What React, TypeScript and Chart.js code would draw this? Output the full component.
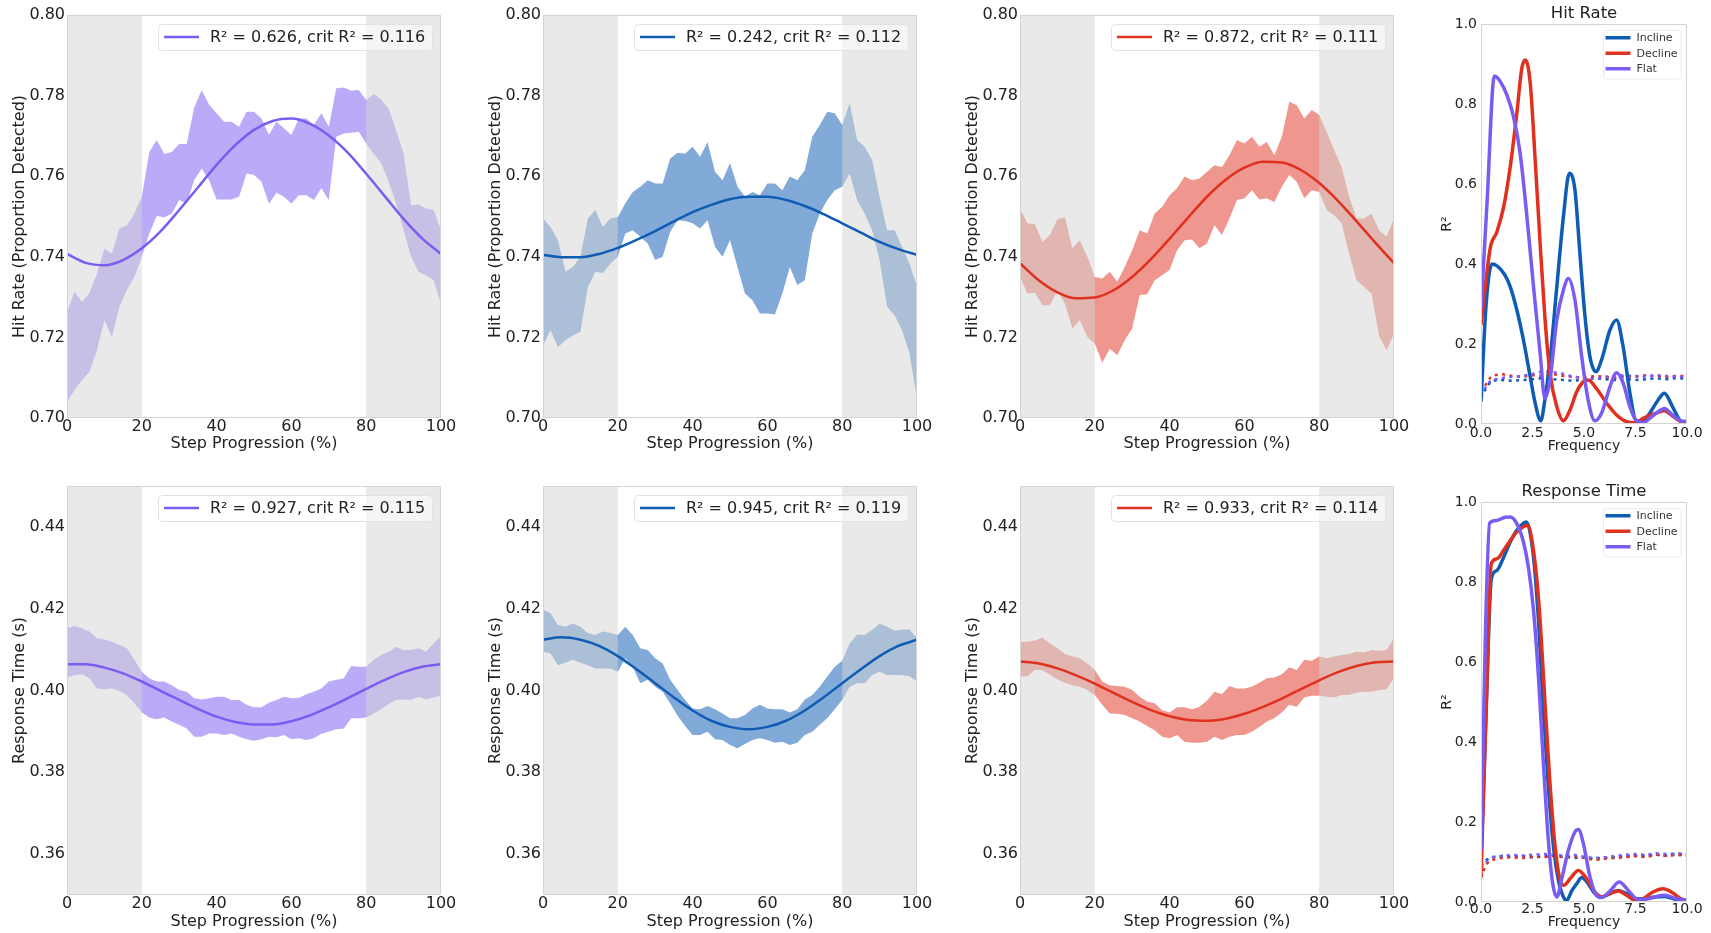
import React, { useEffect, useRef } from "react";
import { Chart, registerables } from "chart.js";

Chart.register(...registerables);

// ---------- styling ----------
const FONT_FAMILY = "'DejaVu Sans', 'Liberation Sans', sans-serif";
const INK = "#222222";
const SPINE = "#d4d4d4";
const ZONE_FILL = "rgba(211, 211, 211, 0.5)";

const FLAT_COLOR = "#7b5cf2";
const INCLINE_COLOR = "#0f5cb4";
const DECLINE_COLOR = "#e0301e";
const FLAT_BAND = "rgba(123, 92, 242, 0.52)";
const INCLINE_BAND = "rgba(15, 92, 180, 0.52)";
const DECLINE_BAND = "rgba(224, 48, 30, 0.5)";

// ---------- axes ----------
const STEP_PCT = [0, 2, 4, 6, 8, 10, 12, 14, 16, 18, 20, 22, 24, 26, 28, 30, 32, 34, 36, 38, 40, 42, 44, 46, 48, 50, 52, 54, 56, 58, 60, 62, 64, 66, 68, 70, 72, 74, 76, 78, 80, 82, 84, 86, 88, 90, 92, 94, 96, 98, 100];
const FIT_PCT = [0, 5, 10, 15, 20, 25, 30, 35, 40, 45, 50, 55, 60, 65, 70, 75, 80, 85, 90, 95, 100];
const PCT_TICKS = [0, 20, 40, 60, 80, 100];
const HIT_TICKS = [0.7, 0.72, 0.74, 0.76, 0.78, 0.8];
const RT_TICKS = [0.36, 0.38, 0.4, 0.42, 0.44];
const FREQ_TICKS = [0, 2.5, 5, 7.5, 10];
const R2_TICKS = [0, 0.2, 0.4, 0.6, 0.8, 1.0];
const SHADED_ZONES = [[0, 20], [80, 100]];

// ---------- hit rate bands and fits ----------
const HIT_FLAT_UPPER = [0.7263, 0.7313, 0.7288, 0.7310, 0.7358, 0.7420, 0.7408, 0.7470, 0.7478, 0.7507, 0.7549, 0.7660, 0.7690, 0.7655, 0.7660, 0.7680, 0.7680, 0.7770, 0.7814, 0.7777, 0.7756, 0.7735, 0.7735, 0.7723, 0.7760, 0.7760, 0.7743, 0.7702, 0.7735, 0.7719, 0.7702, 0.7743, 0.7743, 0.7727, 0.7756, 0.7723, 0.7818, 0.7820, 0.7812, 0.7814, 0.7789, 0.7804, 0.7790, 0.7768, 0.7714, 0.7656, 0.7528, 0.7530, 0.7520, 0.7516, 0.7466];
const HIT_FLAT_LOWER = [0.7040, 0.7069, 0.7094, 0.7114, 0.7168, 0.7243, 0.7201, 0.7276, 0.7317, 0.7350, 0.7400, 0.7458, 0.7501, 0.7498, 0.7507, 0.7541, 0.7532, 0.7590, 0.7619, 0.7590, 0.7542, 0.7542, 0.7542, 0.7549, 0.7607, 0.7603, 0.7586, 0.7531, 0.7559, 0.7549, 0.7532, 0.7553, 0.7553, 0.7541, 0.7570, 0.7541, 0.7698, 0.7706, 0.7708, 0.7710, 0.7681, 0.7656, 0.7632, 0.7586, 0.7532, 0.7466, 0.7400, 0.7363, 0.7354, 0.7342, 0.7284];
const HIT_FLAT_FIT = [0.7407, 0.7385, 0.7379, 0.7392, 0.7421, 0.7463, 0.7516, 0.7572, 0.7628, 0.7677, 0.7715, 0.7737, 0.7743, 0.7730, 0.7701, 0.7659, 0.7606, 0.7550, 0.7494, 0.7445, 0.7407];

const HIT_INCLINE_UPPER = [0.7495, 0.7474, 0.7441, 0.7363, 0.7375, 0.7400, 0.7495, 0.7516, 0.7474, 0.7495, 0.7499, 0.7532, 0.7561, 0.7574, 0.7590, 0.7582, 0.7582, 0.7644, 0.7658, 0.7656, 0.7673, 0.7648, 0.7685, 0.7611, 0.7590, 0.7633, 0.7574, 0.7549, 0.7561, 0.7553, 0.7582, 0.7582, 0.7565, 0.7599, 0.7590, 0.7615, 0.7698, 0.7727, 0.7760, 0.7756, 0.7727, 0.7781, 0.7690, 0.7673, 0.7640, 0.7549, 0.7466, 0.7466, 0.7425, 0.7383, 0.7325];
const HIT_INCLINE_LOWER = [0.7180, 0.7218, 0.7176, 0.7193, 0.7205, 0.7214, 0.7325, 0.7363, 0.7360, 0.7383, 0.7400, 0.7458, 0.7466, 0.7450, 0.7433, 0.7392, 0.7400, 0.7462, 0.7491, 0.7489, 0.7483, 0.7470, 0.7491, 0.7425, 0.7400, 0.7441, 0.7375, 0.7309, 0.7292, 0.7259, 0.7259, 0.7257, 0.7309, 0.7375, 0.7330, 0.7342, 0.7458, 0.7507, 0.7541, 0.7565, 0.7574, 0.7607, 0.7541, 0.7507, 0.7466, 0.7392, 0.7276, 0.7255, 0.7218, 0.7160, 0.7048];
const HIT_INCLINE_FIT = [0.7405, 0.7399, 0.7399, 0.7407, 0.7422, 0.7442, 0.7464, 0.7488, 0.7511, 0.7529, 0.7543, 0.7549, 0.7549, 0.7541, 0.7526, 0.7506, 0.7483, 0.7460, 0.7437, 0.7419, 0.7405];

const HIT_DECLINE_UPPER = [0.7520, 0.7483, 0.7481, 0.7437, 0.7454, 0.7493, 0.7498, 0.7421, 0.7441, 0.7400, 0.7350, 0.7346, 0.7363, 0.7338, 0.7375, 0.7416, 0.7466, 0.7458, 0.7507, 0.7524, 0.7553, 0.7570, 0.7599, 0.7590, 0.7594, 0.7611, 0.7627, 0.7623, 0.7652, 0.7690, 0.7681, 0.7698, 0.7673, 0.7685, 0.7652, 0.7698, 0.7785, 0.7776, 0.7743, 0.7764, 0.7752, 0.7710, 0.7665, 0.7623, 0.7549, 0.7495, 0.7495, 0.7507, 0.7466, 0.7450, 0.7495];
const HIT_DECLINE_LOWER = [0.7350, 0.7309, 0.7311, 0.7280, 0.7280, 0.7317, 0.7284, 0.7222, 0.7243, 0.7201, 0.7185, 0.7137, 0.7172, 0.7156, 0.7193, 0.7222, 0.7305, 0.7307, 0.7342, 0.7354, 0.7367, 0.7416, 0.7441, 0.7443, 0.7421, 0.7433, 0.7478, 0.7454, 0.7495, 0.7541, 0.7545, 0.7565, 0.7542, 0.7545, 0.7536, 0.7574, 0.7603, 0.7586, 0.7545, 0.7565, 0.7561, 0.7516, 0.7503, 0.7483, 0.7408, 0.7342, 0.7325, 0.7309, 0.7205, 0.7168, 0.7209];
const HIT_DECLINE_FIT = [0.7384, 0.7342, 0.7312, 0.7297, 0.7299, 0.7317, 0.7350, 0.7394, 0.7445, 0.7498, 0.7549, 0.7591, 0.7621, 0.7636, 0.7634, 0.7616, 0.7583, 0.7539, 0.7488, 0.7435, 0.7384];

// ---------- response time bands and fits ----------
const RT_FLAT_UPPER = [0.4152, 0.4158, 0.4152, 0.4144, 0.4128, 0.4125, 0.4119, 0.4111, 0.4103, 0.4075, 0.4046, 0.4030, 0.4022, 0.4022, 0.4013, 0.4001, 0.3997, 0.3981, 0.3978, 0.3981, 0.3985, 0.3985, 0.3977, 0.3977, 0.3965, 0.3959, 0.3959, 0.3970, 0.3977, 0.3985, 0.3981, 0.3982, 0.3991, 0.3997, 0.4005, 0.4022, 0.4026, 0.4030, 0.4060, 0.4058, 0.4058, 0.4075, 0.4087, 0.4095, 0.4107, 0.4099, 0.4099, 0.4103, 0.4095, 0.4115, 0.4133];
const RT_FLAT_LOWER = [0.4032, 0.4038, 0.4040, 0.4030, 0.4005, 0.4003, 0.4005, 0.3999, 0.3989, 0.3969, 0.3946, 0.3934, 0.3930, 0.3934, 0.3924, 0.3916, 0.3907, 0.3887, 0.3887, 0.3895, 0.3895, 0.3891, 0.3895, 0.3887, 0.3881, 0.3877, 0.3881, 0.3887, 0.3886, 0.3891, 0.3881, 0.3883, 0.3879, 0.3883, 0.3894, 0.3899, 0.3905, 0.3907, 0.3932, 0.3932, 0.3934, 0.3944, 0.3954, 0.3967, 0.3977, 0.3978, 0.3977, 0.3985, 0.3978, 0.3983, 0.3987];
const RT_FLAT_FIT = [0.4064, 0.4064, 0.4056, 0.4042, 0.4022, 0.3999, 0.3977, 0.3955, 0.3936, 0.3923, 0.3917, 0.3917, 0.3925, 0.3939, 0.3959, 0.3981, 0.4004, 0.4026, 0.4045, 0.4058, 0.4064];

const RT_INCLINE_UPPER = [0.4198, 0.4189, 0.4160, 0.4156, 0.4164, 0.4156, 0.4140, 0.4136, 0.4144, 0.4141, 0.4136, 0.4156, 0.4136, 0.4103, 0.4099, 0.4079, 0.4066, 0.4026, 0.4001, 0.3977, 0.3956, 0.3954, 0.3962, 0.3954, 0.3944, 0.3932, 0.3932, 0.3940, 0.3956, 0.3965, 0.3956, 0.3954, 0.3954, 0.3946, 0.3954, 0.3978, 0.3989, 0.4009, 0.4034, 0.4058, 0.4073, 0.4115, 0.4137, 0.4136, 0.4148, 0.4163, 0.4156, 0.4146, 0.4149, 0.4149, 0.4128];
const RT_INCLINE_LOWER = [0.4095, 0.4091, 0.4062, 0.4068, 0.4076, 0.4068, 0.4062, 0.4054, 0.4054, 0.4054, 0.4046, 0.4079, 0.4058, 0.4018, 0.4026, 0.4009, 0.3997, 0.3969, 0.3938, 0.3913, 0.3891, 0.3891, 0.3899, 0.3881, 0.3879, 0.3867, 0.3859, 0.3869, 0.3879, 0.3883, 0.3879, 0.3872, 0.3875, 0.3867, 0.3872, 0.3891, 0.3899, 0.3916, 0.3932, 0.3954, 0.3977, 0.4009, 0.4018, 0.4018, 0.4038, 0.4046, 0.4038, 0.4038, 0.4038, 0.4035, 0.4022];
const RT_INCLINE_FIT = [0.4124, 0.4130, 0.4124, 0.4109, 0.4084, 0.4052, 0.4018, 0.3983, 0.3951, 0.3926, 0.3911, 0.3905, 0.3911, 0.3926, 0.3951, 0.3983, 0.4018, 0.4052, 0.4084, 0.4109, 0.4124];

const RT_DECLINE_UPPER = [0.4119, 0.4119, 0.4122, 0.4129, 0.4115, 0.4103, 0.4089, 0.4084, 0.4079, 0.4066, 0.4050, 0.4022, 0.4013, 0.4011, 0.4009, 0.4001, 0.3985, 0.3973, 0.3969, 0.3952, 0.3946, 0.3959, 0.3959, 0.3954, 0.3960, 0.3975, 0.3997, 0.3991, 0.4011, 0.4005, 0.4005, 0.4009, 0.4019, 0.4030, 0.4032, 0.4040, 0.4057, 0.4050, 0.4075, 0.4073, 0.4083, 0.4079, 0.4083, 0.4087, 0.4089, 0.4095, 0.4093, 0.4099, 0.4097, 0.4099, 0.4128];
const RT_DECLINE_LOWER = [0.4034, 0.4035, 0.4050, 0.4050, 0.4038, 0.4027, 0.4019, 0.4013, 0.4009, 0.4001, 0.3989, 0.3965, 0.3944, 0.3943, 0.3940, 0.3932, 0.3924, 0.3913, 0.3903, 0.3887, 0.3883, 0.3891, 0.3875, 0.3872, 0.3872, 0.3875, 0.3887, 0.3879, 0.3887, 0.3891, 0.3891, 0.3899, 0.3911, 0.3924, 0.3932, 0.3946, 0.3965, 0.3960, 0.3983, 0.3987, 0.3987, 0.3985, 0.3983, 0.3989, 0.3989, 0.3995, 0.3997, 0.3997, 0.4001, 0.4003, 0.4030];
const RT_DECLINE_FIT = [0.4071, 0.4066, 0.4054, 0.4037, 0.4017, 0.3994, 0.3972, 0.3952, 0.3937, 0.3928, 0.3926, 0.3931, 0.3943, 0.3960, 0.3980, 0.4003, 0.4025, 0.4045, 0.4060, 0.4069, 0.4071];

// ---------- fit statistics [R², critical R²] ----------
const HIT_FLAT_STATS = [0.626, 0.116];
const HIT_INCLINE_STATS = [0.242, 0.112];
const HIT_DECLINE_STATS = [0.872, 0.111];
const RT_FLAT_STATS = [0.927, 0.115];
const RT_INCLINE_STATS = [0.945, 0.119];
const RT_DECLINE_STATS = [0.933, 0.114];

// ---------- R² by frequency: hit rate ----------
const HR_INCLINE_F = [0, 0.25, 0.53, 1.1, 1.42, 1.74, 2.06, 2.39, 2.63, 2.9, 3.1, 3.35, 3.68, 4.0, 4.29, 4.56, 4.8, 5.05, 5.29, 5.58, 5.85, 6.26, 6.58, 6.9, 7.23, 7.55, 7.87, 8.19, 8.6, 8.9, 9.3, 9.7, 10];
const HR_INCLINE_R2 = [0.056, 0.30, 0.40, 0.377, 0.343, 0.285, 0.21, 0.118, 0.052, 0.008, 0.06, 0.16, 0.343, 0.518, 0.627, 0.585, 0.427, 0.268, 0.168, 0.131, 0.16, 0.235, 0.26, 0.193, 0.077, 0.008, 0.008, 0.027, 0.06, 0.077, 0.043, 0.008, 0.006];
const HR_DECLINE_F = [0, 0.45, 0.77, 1.1, 1.42, 1.74, 1.98, 2.15, 2.39, 2.63, 2.87, 3.1, 3.35, 3.68, 4.0, 4.32, 4.65, 4.97, 5.2, 5.6, 6.1, 6.58, 7.06, 7.55, 7.87, 8.5, 8.9, 9.3, 9.7, 10];
const HR_DECLINE_R2 = [0.2475, 0.44, 0.48, 0.543, 0.643, 0.777, 0.889, 0.91, 0.852, 0.66, 0.452, 0.268, 0.127, 0.043, 0.008, 0.035, 0.081, 0.106, 0.11, 0.089, 0.052, 0.0225, 0.006, 0.003, 0.014, 0.027, 0.033, 0.02, 0.006, 0.003];
const HR_FLAT_F = [0, 0.29, 0.65, 0.94, 1.26, 1.58, 1.9, 2.23, 2.55, 2.87, 3.1, 3.35, 3.68, 4.0, 4.24, 4.56, 4.89, 5.2, 5.53, 5.85, 6.26, 6.58, 6.9, 7.23, 7.55, 7.87, 8.19, 8.6, 8.9, 9.3, 9.7, 10];
const HR_FLAT_R2 = [0.289, 0.55, 0.87, 0.856, 0.822, 0.768, 0.677, 0.518, 0.343, 0.177, 0.064, 0.11, 0.26, 0.335, 0.364, 0.31, 0.168, 0.06, 0.008, 0.027, 0.093, 0.128, 0.102, 0.043, 0.008, 0.003, 0.014, 0.031, 0.039, 0.0225, 0.008, 0.003];

// ---------- R² by frequency: response time ----------
const RT_INCLINE_F = [0, 0.26, 0.5, 0.77, 1.1, 1.42, 1.74, 2.2, 2.55, 2.79, 3.03, 3.27, 3.52, 3.76, 4.0, 4.16, 4.4, 4.65, 4.89, 5.2, 5.53, 5.85, 6.26, 6.66, 7.06, 7.47, 7.87, 8.44, 8.9, 9.5, 10];
const RT_INCLINE_R2 = [0.096, 0.496, 0.808, 0.829, 0.862, 0.9, 0.929, 0.95, 0.862, 0.704, 0.479, 0.2875, 0.1375, 0.054, 0.0125, 0.004, 0.0275, 0.046, 0.061, 0.046, 0.021, 0.0125, 0.021, 0.029, 0.021, 0.008, 0.008, 0.0125, 0.014, 0.006, 0.004];
const RT_DECLINE_F = [0, 0.26, 0.5, 0.77, 1.1, 1.42, 1.74, 2.25, 2.63, 2.87, 3.1, 3.35, 3.6, 3.84, 4.03, 4.32, 4.73, 5.13, 5.53, 5.85, 6.26, 6.66, 7.06, 7.55, 7.87, 8.35, 8.84, 9.32, 9.7, 10];
const RT_DECLINE_R2 = [0.0625, 0.496, 0.846, 0.858, 0.879, 0.904, 0.925, 0.942, 0.846, 0.704, 0.504, 0.296, 0.1375, 0.054, 0.042, 0.058, 0.079, 0.058, 0.025, 0.0125, 0.021, 0.0275, 0.017, 0.0025, 0.008, 0.025, 0.033, 0.0225, 0.008, 0.004];
const RT_FLAT_F = [0, 0.21, 0.42, 0.77, 1.18, 1.42, 1.74, 2.06, 2.3, 2.55, 2.79, 3.03, 3.27, 3.48, 3.68, 3.92, 4.24, 4.56, 4.73, 4.97, 5.29, 5.6, 5.85, 6.26, 6.71, 7.15, 7.55, 7.87, 8.44, 8.9, 9.5, 10];
const RT_FLAT_R2 = [0.129, 0.6625, 0.9475, 0.954, 0.962, 0.9625, 0.946, 0.9, 0.8375, 0.729, 0.5625, 0.346, 0.154, 0.046, 0.0125, 0.058, 0.129, 0.175, 0.181, 0.146, 0.0625, 0.017, 0.011, 0.0275, 0.05, 0.029, 0.008, 0.006, 0.0125, 0.017, 0.008, 0.004];

// ---------- critical R² (permutation threshold) ----------
const CRIT_F = [0, 0.25, 0.5, 1, 1.5, 2, 2.5, 3, 3.5, 4, 4.5, 5, 5.5, 6, 6.5, 7, 7.5, 8, 8.5, 9, 9.5, 10];
const HR_CRIT_INCLINE = [0.065, 0.09, 0.108, 0.11, 0.108, 0.11, 0.112, 0.115, 0.112, 0.11, 0.108, 0.112, 0.115, 0.112, 0.11, 0.113, 0.11, 0.112, 0.114, 0.112, 0.115, 0.113];
const HR_CRIT_DECLINE = [0.08, 0.1, 0.12, 0.125, 0.12, 0.118, 0.122, 0.12, 0.125, 0.12, 0.118, 0.115, 0.12, 0.118, 0.115, 0.12, 0.118, 0.122, 0.12, 0.118, 0.12, 0.12];
const HR_CRIT_FLAT = [0.07, 0.095, 0.11, 0.115, 0.118, 0.12, 0.125, 0.132, 0.13, 0.125, 0.118, 0.115, 0.112, 0.118, 0.12, 0.122, 0.12, 0.118, 0.122, 0.12, 0.118, 0.118];
const RT_CRIT_INCLINE = [0.09, 0.105, 0.112, 0.115, 0.113, 0.115, 0.112, 0.114, 0.116, 0.113, 0.11, 0.112, 0.108, 0.11, 0.112, 0.114, 0.116, 0.115, 0.118, 0.116, 0.12, 0.118];
const RT_CRIT_DECLINE = [0.06, 0.095, 0.105, 0.11, 0.112, 0.11, 0.113, 0.112, 0.115, 0.112, 0.115, 0.11, 0.105, 0.108, 0.11, 0.112, 0.115, 0.112, 0.118, 0.115, 0.118, 0.116];
const RT_CRIT_FLAT = [0.085, 0.1, 0.11, 0.115, 0.118, 0.116, 0.118, 0.12, 0.118, 0.116, 0.118, 0.113, 0.11, 0.112, 0.115, 0.118, 0.12, 0.118, 0.122, 0.12, 0.122, 0.12];

// ---------- helpers ----------
const toPoints = (xs: number[], ys: number[]) => xs.map((x, i) => ({ x, y: ys[i] }));
const font = (size: number, weight = "normal") => ({ family: FONT_FAMILY, size, weight });
const fixedTicks = (values: number[]) => (scale: any) => {
  scale.ticks = values.map((v) => ({ value: v }));
};
const statLabel = (s: number[]) => `R\u00b2 = ${s[0].toFixed(3)}, crit R\u00b2 = ${s[1].toFixed(3)}`;

// grey shading over the first and last 20 % of the step, laid over the band but under the fit
const zonePlugin = {
  id: "stepZones",
  afterDatasetDraw(chart: any, args: any) {
    if (args.index !== 1) return;
    const { ctx, chartArea, scales } = chart;
    ctx.save();
    ctx.fillStyle = ZONE_FILL;
    for (const [a, b] of SHADED_ZONES) {
      const x0 = scales.x.getPixelForValue(a);
      const x1 = scales.x.getPixelForValue(b);
      ctx.fillRect(x0, chartArea.top, x1 - x0, chartArea.bottom - chartArea.top);
    }
    ctx.restore();
  },
};

// thin light frame around the plotting area
const framePlugin = {
  id: "plotFrame",
  afterDraw(chart: any) {
    const { ctx, chartArea } = chart;
    ctx.save();
    ctx.strokeStyle = SPINE;
    ctx.lineWidth = 1;
    ctx.strokeRect(
      Math.round(chartArea.left) + 0.5,
      Math.round(chartArea.top) + 0.5,
      Math.round(chartArea.right - chartArea.left) - 1,
      Math.round(chartArea.bottom - chartArea.top) - 1
    );
    ctx.restore();
  },
};

// legend drawn inside the top-right corner of the plotting area
function insetLegend(items: { label: string; color: string }[], o: any) {
  return {
    id: "insetLegend",
    afterDraw(chart: any) {
      const { ctx, chartArea } = chart;
      ctx.save();
      ctx.font = `${o.fontSize}px ${FONT_FAMILY}`;
      const textW = Math.max(...items.map((it) => ctx.measureText(it.label).width));
      const w = o.padL + o.lineLen + o.gap + textW + o.padR;
      const h = o.padT + o.rowH * items.length + o.padB;
      const x = Math.round(chartArea.right - o.right - w);
      const y = Math.round(chartArea.top + o.top);
      ctx.beginPath();
      ctx.roundRect(x + 0.5, y + 0.5, w, h, o.radius);
      ctx.fillStyle = o.bg;
      ctx.fill();
      ctx.strokeStyle = o.edge;
      ctx.lineWidth = 1;
      ctx.stroke();
      items.forEach((it, i) => {
        const cy = y + o.padT + o.rowH * (i + 0.5);
        ctx.beginPath();
        ctx.moveTo(x + o.padL, cy);
        ctx.lineTo(x + o.padL + o.lineLen, cy);
        ctx.strokeStyle = it.color;
        ctx.lineWidth = o.lineWidth;
        ctx.lineCap = "butt";
        ctx.stroke();
        ctx.fillStyle = o.textColor;
        ctx.textBaseline = "middle";
        ctx.textAlign = "left";
        ctx.fillText(it.label, x + o.padL + o.lineLen + o.gap, cy + 0.5);
      });
      ctx.restore();
    },
  };
}

// ---------- band panel (mean band + sinusoid fit) ----------
type BandSpec = {
  upper: number[];
  lower: number[];
  fit: number[];
  color: string;
  band: string;
  stats: number[];
  yMin: number;
  yMax: number;
  yTicks: number[];
  yTitle: string;
  padTop: number;
  xAxisH: number;
  xTickPad: number;
};

function bandConfig(s: BandSpec): any {
  return {
    type: "line",
    data: {
      datasets: [
        {
          data: toPoints(FIT_PCT, s.fit),
          borderColor: s.color,
          borderWidth: 2.5,
          pointRadius: 0,
          fill: false,
          cubicInterpolationMode: "monotone",
        },
        {
          data: toPoints(STEP_PCT, s.upper),
          borderColor: "rgba(0,0,0,0)",
          borderWidth: 0,
          pointRadius: 0,
          tension: 0,
          fill: "+1",
          backgroundColor: s.band,
        },
        {
          data: toPoints(STEP_PCT, s.lower),
          borderColor: "rgba(0,0,0,0)",
          borderWidth: 0,
          pointRadius: 0,
          tension: 0,
          fill: false,
        },
      ],
    },
    options: {
      responsive: false,
      animation: false,
      events: [],
      layout: { padding: { left: 0, top: s.padTop, right: 19, bottom: 0 } },
      plugins: { legend: { display: false }, tooltip: { enabled: false }, title: { display: false } },
      scales: {
        x: {
          type: "linear",
          min: 0,
          max: 100,
          afterBuildTicks: fixedTicks(PCT_TICKS),
          afterFit: (sc: any) => {
            sc.height = s.xAxisH;
          },
          grid: { display: false, drawTicks: false },
          border: { display: false },
          ticks: {
            autoSkip: false,
            maxRotation: 0,
            minRotation: 0,
            padding: s.xTickPad,
            color: INK,
            font: font(16),
            callback: (v: any) => String(Math.round(Number(v))),
          },
          title: {
            display: true,
            text: "Step Progression (%)",
            color: INK,
            font: font(16),
            padding: { top: 0, bottom: 0 },
          },
        },
        y: {
          type: "linear",
          min: s.yMin,
          max: s.yMax,
          afterBuildTicks: fixedTicks(s.yTicks),
          afterFit: (sc: any) => {
            sc.width = 67;
          },
          grid: { display: false, drawTicks: false },
          border: { display: false },
          ticks: {
            autoSkip: false,
            padding: 2,
            color: INK,
            font: font(16),
            callback: (v: any) => Number(v).toFixed(2),
          },
          title: {
            display: true,
            text: s.yTitle,
            color: INK,
            font: font(16),
            padding: { top: 10.4, bottom: 0 },
          },
        },
      },
    },
    plugins: [
      zonePlugin,
      framePlugin,
      insetLegend([{ label: statLabel(s.stats), color: s.color }], {
        fontSize: 16,
        padL: 6,
        lineLen: 35,
        gap: 11,
        padR: 7,
        padT: 4,
        rowH: 18,
        padB: 4,
        right: 9,
        top: 9,
        radius: 4,
        lineWidth: 2.5,
        bg: "rgba(255,255,255,0.55)",
        edge: "#e2e2e2",
        textColor: INK,
      }),
    ],
  };
}

// ---------- spectrum panel (R² by frequency) ----------
type SpectrumSpec = {
  title: string;
  titlePadTop: number;
  xAxisH: number;
  xTickPad: number;
  incline: [number[], number[]];
  decline: [number[], number[]];
  flat: [number[], number[]];
  crit: [number[], number[], number[]];
};

function spectrumConfig(s: SpectrumSpec): any {
  const solid = (pts: [number[], number[]], color: string) => ({
    data: toPoints(pts[0], pts[1]),
    borderColor: color,
    borderWidth: 3.5,
    pointRadius: 0,
    fill: false,
    cubicInterpolationMode: "monotone",
  });
  const dotted = (vals: number[], color: string) => ({
    data: toPoints(CRIT_F, vals),
    borderColor: color,
    borderWidth: 2.5,
    borderDash: [3, 4.5],
    pointRadius: 0,
    fill: false,
    tension: 0,
  });
  return {
    type: "line",
    data: {
      datasets: [
        solid(s.flat, FLAT_COLOR),
        solid(s.decline, DECLINE_COLOR),
        solid(s.incline, INCLINE_COLOR),
        dotted(s.crit[2], FLAT_COLOR),
        dotted(s.crit[1], DECLINE_COLOR),
        dotted(s.crit[0], INCLINE_COLOR),
      ],
    },
    options: {
      responsive: false,
      animation: false,
      events: [],
      layout: { padding: { left: 0, top: 0, right: 24, bottom: 0 } },
      plugins: {
        legend: { display: false },
        tooltip: { enabled: false },
        title: {
          display: true,
          text: s.title,
          color: INK,
          font: font(16.5),
          fullSize: false,
          padding: { top: s.titlePadTop, bottom: 0.1 },
        },
      },
      scales: {
        x: {
          type: "linear",
          min: 0,
          max: 10,
          afterBuildTicks: fixedTicks(FREQ_TICKS),
          afterFit: (sc: any) => {
            sc.height = s.xAxisH;
          },
          grid: { display: false, drawTicks: false },
          border: { display: false },
          ticks: {
            autoSkip: false,
            maxRotation: 0,
            minRotation: 0,
            padding: s.xTickPad,
            color: INK,
            font: font(14),
            callback: (v: any) => Number(v).toFixed(1),
          },
          title: {
            display: true,
            text: "Frequency",
            color: INK,
            font: font(14),
            padding: { top: 0, bottom: 0 },
          },
        },
        y: {
          type: "linear",
          min: 0,
          max: 1,
          afterBuildTicks: fixedTicks(R2_TICKS),
          afterFit: (sc: any) => {
            sc.width = 51;
          },
          grid: { display: false, drawTicks: false },
          border: { display: false },
          ticks: {
            autoSkip: false,
            padding: 4,
            color: INK,
            font: font(14),
            callback: (v: any) => Number(v).toFixed(1),
          },
          title: {
            display: true,
            text: "R\u00b2",
            color: INK,
            font: font(14),
            padding: { top: 8.6, bottom: 0 },
          },
        },
      },
    },
    plugins: [
      framePlugin,
      insetLegend(
        [
          { label: "Incline", color: INCLINE_COLOR },
          { label: "Decline", color: DECLINE_COLOR },
          { label: "Flat", color: FLAT_COLOR },
        ],
        {
          fontSize: 11,
          padL: 2.5,
          lineLen: 25,
          gap: 6,
          padR: 3,
          padT: 0,
          rowH: 15.5,
          padB: 2,
          right: 6,
          top: 6,
          radius: 3,
          lineWidth: 3.5,
          bg: "rgba(255,255,255,0.8)",
          edge: "#ececec",
          textColor: "#333333",
        }
      ),
    ],
  };
}

// ---------- canvas wrapper ----------
function ChartCanvas({ left, top, width, height, config }: any) {
  const ref = useRef<HTMLCanvasElement | null>(null);
  useEffect(() => {
    if (!ref.current) return;
    const chart = new Chart(ref.current, config);
    return () => chart.destroy();
  }, []);
  return (
    <canvas
      ref={ref}
      width={width}
      height={height}
      style={{ position: "absolute", left, top, width, height }}
    />
  );
}

const HIT_TITLE = "Hit Rate (Proportion Detected)";
const RT_TITLE = "Response Time (s)";

export default function App() {
  const hitBase = { yMin: 0.7, yMax: 0.8, yTicks: HIT_TICKS, yTitle: HIT_TITLE, padTop: 15, xAxisH: 35, xTickPad: -0.5 };
  const rtBase = { yMin: 0.35, yMax: 0.45, yTicks: RT_TICKS, yTitle: RT_TITLE, padTop: 16, xAxisH: 36, xTickPad: -0.5 };

  const panels = [
    { left: 0, top: 0, width: 460, height: 453, config: bandConfig({ ...hitBase, upper: HIT_FLAT_UPPER, lower: HIT_FLAT_LOWER, fit: HIT_FLAT_FIT, color: FLAT_COLOR, band: FLAT_BAND, stats: HIT_FLAT_STATS }) },
    { left: 476, top: 0, width: 460, height: 453, config: bandConfig({ ...hitBase, upper: HIT_INCLINE_UPPER, lower: HIT_INCLINE_LOWER, fit: HIT_INCLINE_FIT, color: INCLINE_COLOR, band: INCLINE_BAND, stats: HIT_INCLINE_STATS }) },
    { left: 953, top: 0, width: 460, height: 453, config: bandConfig({ ...hitBase, upper: HIT_DECLINE_UPPER, lower: HIT_DECLINE_LOWER, fit: HIT_DECLINE_FIT, color: DECLINE_COLOR, band: DECLINE_BAND, stats: HIT_DECLINE_STATS }) },
    { left: 0, top: 470, width: 460, height: 461, config: bandConfig({ ...rtBase, upper: RT_FLAT_UPPER, lower: RT_FLAT_LOWER, fit: RT_FLAT_FIT, color: FLAT_COLOR, band: FLAT_BAND, stats: RT_FLAT_STATS }) },
    { left: 476, top: 470, width: 460, height: 461, config: bandConfig({ ...rtBase, upper: RT_INCLINE_UPPER, lower: RT_INCLINE_LOWER, fit: RT_INCLINE_FIT, color: INCLINE_COLOR, band: INCLINE_BAND, stats: RT_INCLINE_STATS }) },
    { left: 953, top: 470, width: 460, height: 461, config: bandConfig({ ...rtBase, upper: RT_DECLINE_UPPER, lower: RT_DECLINE_LOWER, fit: RT_DECLINE_FIT, color: DECLINE_COLOR, band: DECLINE_BAND, stats: RT_DECLINE_STATS }) },
    {
      left: 1430, top: 0, width: 281, height: 455,
      config: spectrumConfig({
        title: "Hit Rate", titlePadTop: 4.1, xAxisH: 31, xTickPad: 1,
        incline: [HR_INCLINE_F, HR_INCLINE_R2], decline: [HR_DECLINE_F, HR_DECLINE_R2], flat: [HR_FLAT_F, HR_FLAT_R2],
        crit: [HR_CRIT_INCLINE, HR_CRIT_DECLINE, HR_CRIT_FLAT],
      }),
    },
    {
      left: 1430, top: 470, width: 281, height: 461,
      config: spectrumConfig({
        title: "Response Time", titlePadTop: 12.1, xAxisH: 29, xTickPad: -1,
        incline: [RT_INCLINE_F, RT_INCLINE_R2], decline: [RT_DECLINE_F, RT_DECLINE_R2], flat: [RT_FLAT_F, RT_FLAT_R2],
        crit: [RT_CRIT_INCLINE, RT_CRIT_DECLINE, RT_CRIT_FLAT],
      }),
    },
  ];

  return (
    <div style={{ position: "absolute", left: 0, top: 0, width: 1711, height: 933, background: "#ffffff", overflow: "hidden" }}>
      {panels.map((p, i) => (
        <ChartCanvas key={i} {...p} />
      ))}
    </div>
  );
}
